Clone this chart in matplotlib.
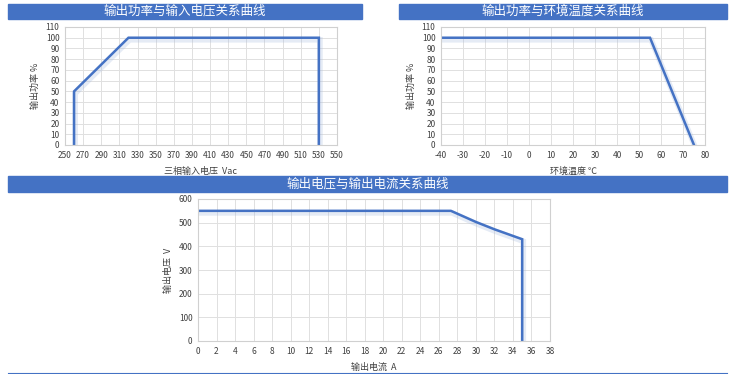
import matplotlib.pyplot as plt
import matplotlib.patheffects as pe
from matplotlib.patches import Rectangle

plt.rcParams['font.family'] = ['Noto Sans CJK SC', 'DejaVu Sans']
plt.rcParams['axes.unicode_minus'] = False

# chart 1: output power vs input voltage
vin = [260, 260, 320, 530, 530]
p_vin = [0, 50, 100, 100, 0]
# chart 2: output power vs ambient temperature
temp = [-40, 55, 75]
p_temp = [100, 100, 0]
# chart 3: output voltage vs output current
iout = [0, 27.3, 30, 32, 35, 35]
vout = [550, 550, 503, 472, 430, 0]

titles = ['输出功率与输入电压关系曲线', '输出功率与环境温度关系曲线', '输出电压与输出电流关系曲线']

W, H = 740, 374
BLUE = '#4472C4'
fig = plt.figure(figsize=(W / 100, H / 100), dpi=100)


def px_axes(x0, y0, x1, y1):
    return fig.add_axes([x0 / W, 1 - y1 / H, (x1 - x0) / W, (y1 - y0) / H])


def title_bar(x0, y0, x1, y1, text):
    fig.patches.append(Rectangle((x0 / W, 1 - y1 / H), (x1 - x0) / W, (y1 - y0) / H,
                                 transform=fig.transFigure, color=BLUE, zorder=0))
    fig.text((x0 + x1) / 2 / W, 1 - (y0 + y1) / 2 / H, text, color='white',
             fontsize=9, fontweight='medium', ha='center', va='center')


def style(ax, xlim, xticks, ylim, yticks, xlabel, ylabel):
    ax.set_xlim(*xlim)
    ax.set_ylim(*ylim)
    ax.set_xticks(xticks)
    ax.set_yticks(yticks)
    ax.grid(True, color='#e0e0e0', lw=0.7)
    ax.set_axisbelow(True)
    for s in ax.spines.values():
        s.set_color('#d0d0d0')
        s.set_linewidth(0.8)
    ax.tick_params(length=0, labelsize=6, labelcolor='#404040', pad=4)
    ax.set_xlabel(xlabel, fontsize=6.5, color='#404040', labelpad=5)
    ax.set_ylabel(ylabel, fontsize=6.5, color='#404040', labelpad=4)


shadow = [pe.SimpleLineShadow(offset=(0.8, -1.5), shadow_color='#a9bde0', alpha=0.3, linewidth=4),
          pe.Normal()]

# top-left
title_bar(8, 4, 362, 19, titles[0])
ax1 = px_axes(65, 27, 337, 145)
ax1.plot(vin, p_vin, color=BLUE, lw=1.8, path_effects=shadow, solid_joinstyle='miter')
style(ax1, (250, 550), range(250, 551, 20), (0, 110), range(0, 111, 10),
      '三相输入电压  Vac', '输出功率 %')

# top-right
title_bar(399, 4, 727, 19, titles[1])
ax2 = px_axes(441, 27, 705, 145)
ax2.plot(temp, p_temp, color=BLUE, lw=1.8, path_effects=shadow, solid_joinstyle='miter')
style(ax2, (-40, 80), range(-40, 81, 10), (0, 110), range(0, 111, 10),
      '环境温度 ℃', '输出功率 %')

# bottom
title_bar(8, 176, 727, 192, titles[2])
ax3 = px_axes(198, 199, 550, 341)
ax3.plot(iout, vout, color=BLUE, lw=1.8, path_effects=shadow, solid_joinstyle='miter')
style(ax3, (0, 38), range(0, 39, 2), (0, 600), range(0, 601, 100),
      '输出电流  A', '输出电压  V')

fig.add_artist(plt.Line2D([8 / W, 727 / W], [1 - 372.5 / H] * 2, color=BLUE, lw=0.8,
                          transform=fig.transFigure))

fig.savefig('out.png', dpi=100)
